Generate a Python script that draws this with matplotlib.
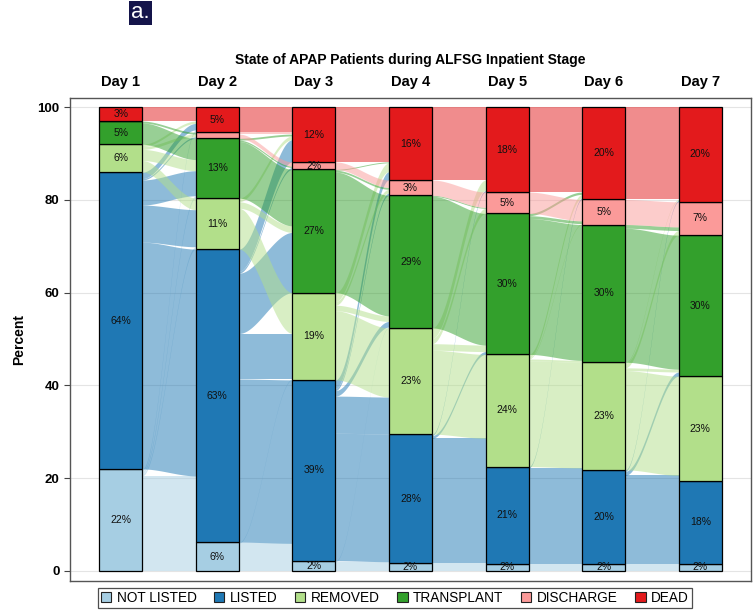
import numpy as np
import matplotlib
matplotlib.use("Agg")
import matplotlib.pyplot as plt
from matplotlib.patches import Patch

plt.rcParams['font.family'] = ['Liberation Sans', 'DejaVu Sans']

days = ['Day 1', 'Day 2', 'Day 3', 'Day 4', 'Day 5', 'Day 6', 'Day 7']
states = ['NOT LISTED', 'LISTED', 'REMOVED', 'TRANSPLANT', 'DISCHARGE', 'DEAD']
colors = ['#a6cee3', '#1f78b4', '#b2df8a', '#33a02c', '#fb9a99', '#e31a1c']

# percent of patients in each state, per day
not_listed = [22.0, 6.2, 2.2, 1.7, 1.6, 1.6, 1.6]
listed     = [64.0, 63.2, 39.0, 27.8, 20.9, 20.2, 17.8]
removed    = [6.0, 11.0, 18.8, 22.9, 24.2, 23.2, 22.6]
transplant = [5.0, 12.9, 26.6, 28.6, 30.4, 29.7, 30.4]
discharge  = [0.0, 1.3, 1.6, 3.3, 4.6, 5.4, 7.2]
dead       = [3.0, 5.4, 11.8, 15.7, 18.3, 19.9, 20.4]

# flows between consecutive days (rows = from state, cols = to state), percent
flow_d1_d2 = [[6.2, 14.3, 0.5, 0.5, 0.0, 0.5],
              [0.0, 48.9, 8.0, 5.4, 0.3, 1.4],
              [0.0, 0.0, 2.5, 2.4, 0.6, 0.5],
              [0.0, 0.0, 0.0, 4.6, 0.4, 0.0],
              [0.0, 0.0, 0.0, 0.0, 0.0, 0.0],
              [0.0, 0.0, 0.0, 0.0, 0.0, 3.0]]
flow_d2_d3 = [[2.2, 3.8, 0.2, 0.0, 0.0, 0.0],
              [0.0, 35.2, 9.8, 13.0, 0.4, 4.8],
              [0.0, 0.0, 8.8, 1.4, 0.0, 0.8],
              [0.0, 0.0, 0.0, 12.2, 0.3, 0.4],
              [0.0, 0.0, 0.0, 0.0, 0.9, 0.4],
              [0.0, 0.0, 0.0, 0.0, 0.0, 5.4]]
flow_d3_d4 = [[1.7, 0.3, 0.0, 0.2, 0.0, 0.0],
              [0.0, 27.5, 8.0, 1.2, 0.5, 1.8],
              [0.0, 0.0, 14.9, 1.2, 0.8, 1.9],
              [0.0, 0.0, 0.0, 26.0, 0.4, 0.2],
              [0.0, 0.0, 0.0, 0.0, 1.6, 0.0],
              [0.0, 0.0, 0.0, 0.0, 0.0, 11.8]]
flow_d4_d5 = [[1.6, 0.1, 0.0, 0.0, 0.0, 0.0],
              [0.0, 20.8, 6.1, 0.6, 0.0, 0.3],
              [0.0, 0.0, 18.1, 1.4, 1.1, 2.3],
              [0.0, 0.0, 0.0, 28.4, 0.2, 0.0],
              [0.0, 0.0, 0.0, 0.0, 3.3, 0.0],
              [0.0, 0.0, 0.0, 0.0, 0.0, 15.7]]
flow_d5_d6 = [[1.6, 0.0, 0.0, 0.0, 0.0, 0.0],
              [0.0, 20.2, 0.4, 0.0, 0.0, 0.3],
              [0.0, 0.0, 22.8, 0.4, 0.2, 0.8],
              [0.0, 0.0, 0.0, 29.3, 0.6, 0.5],
              [0.0, 0.0, 0.0, 0.0, 4.6, 0.0],
              [0.0, 0.0, 0.0, 0.0, 0.0, 18.3]]
flow_d6_d7 = [[1.6, 0.0, 0.0, 0.0, 0.0, 0.0],
              [0.0, 17.8, 1.2, 0.9, 0.0, 0.3],
              [0.0, 0.0, 21.4, 0.6, 1.0, 0.2],
              [0.0, 0.0, 0.0, 28.9, 0.8, 0.0],
              [0.0, 0.0, 0.0, 0.0, 5.4, 0.0],
              [0.0, 0.0, 0.0, 0.0, 0.0, 19.9]]

values = np.array([not_listed, listed, removed, transplant, discharge, dead])  # state x day
flows = [flow_d1_d2, flow_d2_d3, flow_d3_d4, flow_d4_d5, flow_d5_d6, flow_d6_d7]
bottoms = np.vstack([np.zeros(len(days)), np.cumsum(values, axis=0)[:-1]])

fig = plt.figure(figsize=(7.55, 6.11), dpi=100)
ax = fig.add_axes([0.0927, 0.0496, 0.902, 0.7894])
w = 0.445

ax.set_axisbelow(True)
ax.yaxis.grid(True, color='#e4e4e4', lw=0.8)

# alluvial flows
t = np.linspace(0, 1, 60)
sm = 3 * t**2 - 2 * t**3
for i, M in enumerate(flows):
    src = bottoms[:, i].copy()
    dst = bottoms[:, i + 1].copy()
    x0, x1 = i + w / 2, i + 1 - w / 2
    xs = x0 + t * (x1 - x0)
    for s in range(6):
        for d in range(6):
            f = M[s][d]
            if f <= 0:
                continue
            lo = src[s] + (dst[d] - src[s]) * sm
            ax.fill_between(xs, lo, lo + f, color=colors[s], alpha=0.5, lw=0, zorder=1)
            src[s] += f
            dst[d] += f

# stacked bars
x = np.arange(len(days))
for k in range(6):
    ax.bar(x, values[k], bottom=bottoms[k], width=w, color=colors[k],
           edgecolor='black', linewidth=0.9, zorder=3)
    for i in range(len(days)):
        v = values[k][i]
        if v >= 1.5:
            ax.text(i, bottoms[k][i] + v / 2, f"{v:.0f}%", ha='center', va='center',
                    fontsize=7.5, color='#111111', zorder=4)

ax.set_xlim(-0.525, 6.525)
ax.set_ylim(-2.1, 101.9)
ax.set_yticks([0, 20, 40, 60, 80, 100])
ax.set_xticks(x)
ax.set_xticklabels(days, fontsize=10.5, fontweight='bold')
ax.xaxis.set_ticks_position('top')
ax.tick_params(axis='x', length=0, pad=7)
ax.tick_params(axis='y', labelsize=9.5, length=4, width=0.8, color='#444444')
for lab in ax.get_yticklabels():
    lab.set_fontweight('bold')
for sp in ax.spines.values():
    sp.set_color('#555555')
    sp.set_linewidth(1.0)
ax.set_ylabel('Percent', fontsize=10, fontweight='bold', labelpad=8)

fig.text(0.5437, 0.902, 'State of APAP Patients during ALFSG Inpatient Stage',
         ha='center', va='center', fontsize=10, fontweight='bold')
fig.text(0.186, 0.979, 'a.', ha='center', va='center', fontsize=16, color='white',
         bbox=dict(boxstyle='square,pad=0.08', fc='#14144a', ec='none'))

handles = [Patch(facecolor=c, edgecolor='#222222', linewidth=0.8, label=s)
           for c, s in zip(colors, states)]
leg = fig.legend(handles=handles, loc='center', bbox_to_anchor=(0.523, 0.0213), ncol=6,
                 fontsize=9.8, frameon=True, fancybox=False, edgecolor='#222222',
                 handlelength=0.75, handleheight=0.75, handletextpad=0.4,
                 columnspacing=1.3, borderpad=0.25)
leg.get_frame().set_linewidth(0.9)

plt.savefig('out.png', dpi=100)
